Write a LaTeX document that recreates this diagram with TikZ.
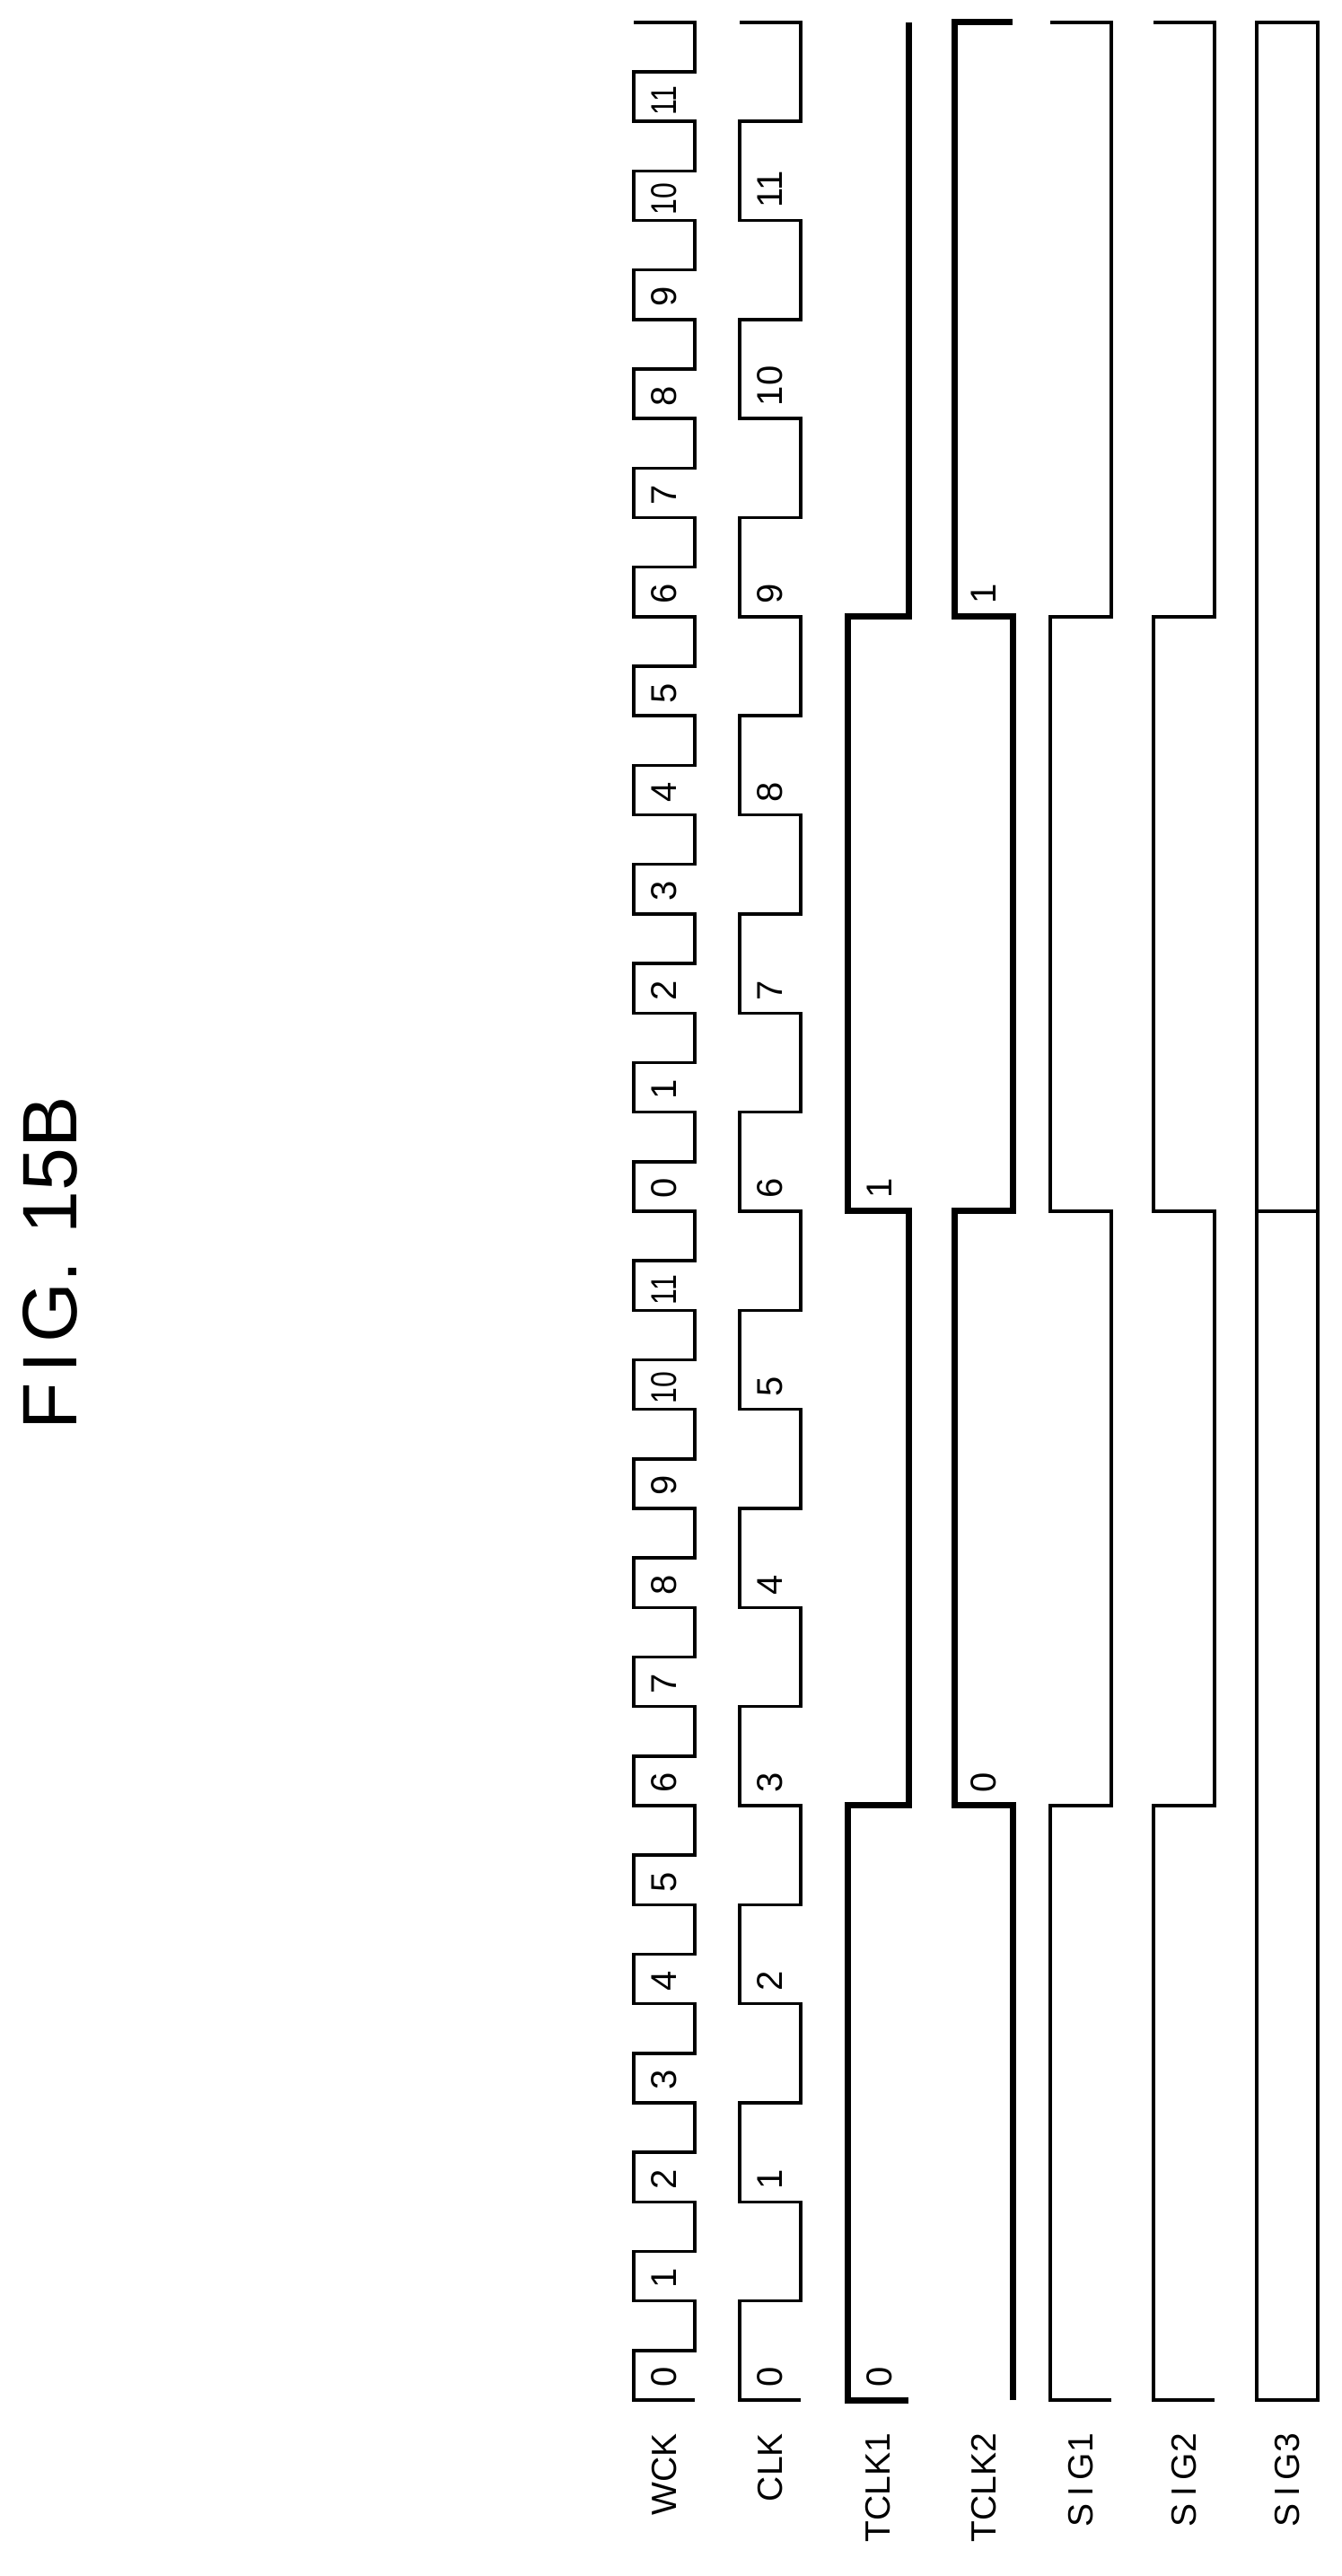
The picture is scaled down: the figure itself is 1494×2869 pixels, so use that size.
\documentclass[tikz,border=0pt]{standalone}
\usepackage{fontspec}
\setmainfont{Liberation Sans}
\begin{document}
\begin{tikzpicture}[x=1pt,y=-1pt,
  sig/.style={line width=3.5pt,line join=miter},
  thk/.style={line width=7pt,line join=miter},
  lbl/.style={rotate=90,anchor=east,inner sep=0pt,font=\fontsize{39}{40}\selectfont},
  num/.style={rotate=90,anchor=west,inner sep=0pt,font=\fontsize{40}{40}\selectfont}]
\useasboundingbox (0,0) rectangle (1494,2869);
\def\h{55.17}
\def\B{2673}
% title
\node[rotate=90,inner sep=0pt,font=\fontsize{86}{90}\selectfont] (title) at (56,1407) {F\hspace{0.12em}I\hspace{0.12em}G.\hspace{0.35em}15B};
% WCK
\draw[sig] (774,\B) -- (706,\B)
  \foreach \k in {0,...,23}{ -- (706,{\B-(2*\k+1)*\h}) -- (774,{\B-(2*\k+1)*\h}) -- (774,{\B-(2*\k+2)*\h}) -- (706,{\B-(2*\k+2)*\h}) };
\foreach \k in {0,...,23}{
  \pgfmathtruncatemacro\n{mod(\k,12)}
  \ifnum\n<10
    \node[num] (w\k) at (740,{\B-2*\k*\h-14}) {\n};
  \else
    \node[num] (w\k) at (740,{\B-2*\k*\h-6}) {\scalebox{0.8}[1]{\n}};
  \fi
}
% CLK
\draw[sig] (892,\B) -- (824,\B)
  \foreach \k in {0,...,11}{ -- (824,{\B-(4*\k+2)*\h}) -- (892,{\B-(4*\k+2)*\h}) -- (892,{\B-(4*\k+4)*\h}) -- (824,{\B-(4*\k+4)*\h}) };
\foreach \k in {0,...,11}{
  \node[num] (c\k) at (858,{\B-4*\k*\h-14}) {\k};
}
% TCLK1
\draw[thk] (1012,\B) -- (944,\B) -- (944,{\B-12*\h}) -- (1012,{\B-12*\h}) -- (1012,{\B-24*\h}) -- (944,{\B-24*\h}) -- (944,{\B-36*\h}) -- (1012,{\B-36*\h}) -- (1012,25);
\node[num] (t1a) at (980,{\B-14}) {0};
\node[num] (t1b) at (980,{\B-24*\h-14}) {1};
% TCLK2
\draw[thk] (1128,\B) -- (1128,{\B-12*\h}) -- (1063,{\B-12*\h}) -- (1063,{\B-24*\h}) -- (1128,{\B-24*\h}) -- (1128,{\B-36*\h}) -- (1063,{\B-36*\h}) -- (1063,25) -- (1128,25);
\node[num] (t2a) at (1096,{\B-12*\h-14}) {0};
\node[num] (t2b) at (1096,{\B-36*\h-14}) {1};
% SIG1, SIG2
\foreach \a/\b/\nm in {1170/1238/s1,1285/1353/s2}{
  \draw[sig] (\b,\B) -- (\a,\B) -- (\a,{\B-12*\h}) -- (\b,{\B-12*\h}) -- (\b,{\B-24*\h}) -- (\a,{\B-24*\h}) -- (\a,{\B-36*\h}) -- (\b,{\B-36*\h}) -- (\b,25) -- (\a,25);
}
% SIG3
\draw[sig] (1400,25) rectangle (1468,\B);
\draw[sig] (1400,{\B-24*\h}) -- (1468,{\B-24*\h});
% labels
\node[lbl] (lw) at (740,2710) {WCK};
\node[lbl] (lc) at (858,2710) {CLK};
\node[lbl] (lt1) at (978,2710) {TCLK1};
\node[lbl] (lt2) at (1096,2710) {TCLK2};
\node[lbl] (ls1) at (1204,2710) {S\hspace{0.2em}I\hspace{0.2em}G1};
\node[lbl] (ls2) at (1319,2710) {S\hspace{0.2em}I\hspace{0.2em}G2};
\node[lbl] (ls3) at (1434,2710) {S\hspace{0.2em}I\hspace{0.2em}G3};
\end{tikzpicture}
\end{document}
